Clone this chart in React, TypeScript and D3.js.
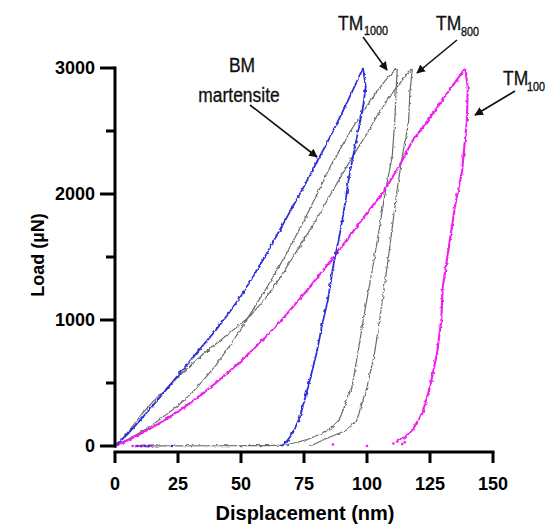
import React from "react";
import * as d3 from "d3";

// Displacement (nm), Load (µN)
const blueLoad: [number, number][] = [
  [0, 0], [5, 95], [10, 205], [15, 320], [20, 440], [25, 560], [30, 680], [35, 800], [40, 920],
  [45, 1050], [50, 1190], [55, 1350], [60, 1520], [65, 1700], [70, 1880], [75, 2060], [80, 2250],
  [85, 2440], [90, 2640], [95, 2850], [98.4, 3000],
];
const blueUnload: [number, number][] = [
  [98.4, 3000], [99.5, 2850], [98.5, 2700], [97, 2550], [95, 2350], [93, 2150], [91.5, 1950],
  [89.3, 1690], [86.5, 1420], [84.5, 1160], [82.5, 990], [80, 738], [76.6, 468], [73.4, 230],
  [70.5, 100], [67.5, 20], [66, 0],
];
const blueTail: [number, number][] = [[9, 0], [10.5, 0], [12, 0], [13.5, 0], [22.6, 0]];

const tm1000Load: [number, number][] = [
  [0, 0], [4, 40], [8, 85], [12, 130], [16, 185], [20, 245], [25, 320], [30, 410], [35, 520],
  [40, 640], [45, 780], [50, 930], [55, 1090], [60, 1250], [65, 1420], [70, 1600], [75, 1790],
  [80, 1990], [85, 2200], [90, 2380], [95, 2550], [100, 2700], [105, 2840], [108, 2920], [112, 3000],
];
const tm1000Unload: [number, number][] = [
  [112, 3000], [111.5, 2800], [111, 2571], [110, 2300], [107.5, 2040], [103, 1500], [98.5, 1000],
  [96.4, 738], [94, 468], [89, 206], [85, 127], [76, 48], [68, 8], [60, 3], [40, 2], [20, 1], [8, 0],
];
const tm800Load: [number, number][] = [
  [0, 0], [3, 60], [6, 130], [11, 262], [15, 350], [20, 450], [25, 548], [30, 640], [35, 730],
  [40, 810], [45, 890], [50, 970], [54, 1040], [60, 1180], [65, 1320], [70, 1480], [75, 1640],
  [80, 1800], [86.5, 2030], [90, 2150], [95, 2320], [100, 2480], [104, 2620], [110, 2800],
  [115, 2930], [118, 3000],
];
const tm800Unload: [number, number][] = [
  [118, 3000], [117, 2800], [116.5, 2571], [114, 2300], [112, 2040], [108.5, 1500], [105, 1000],
  [103, 738], [100, 468], [96, 206], [92, 127], [82.5, 48], [78.5, 8], [77, 6],
];

const tm100Load: [number, number][] = [
  [0, 0], [5, 45], [10, 95], [15, 150], [20, 210], [25, 275], [30, 345], [35, 420], [40, 500],
  [45, 585], [50, 675], [55, 770], [60, 870], [65, 975], [70, 1090], [76, 1230], [82, 1380],
  [88, 1530], [94, 1690], [100, 1850], [107, 2030], [113, 2230], [118, 2420], [124, 2580],
  [129, 2720], [134, 2860], [139, 3000],
];
const tm100Unload: [number, number][] = [
  [139, 3000], [140, 2840], [139.6, 2571], [138.5, 2350], [137.7, 2175], [135, 1913], [132, 1516],
  [130, 1254], [129.5, 1000], [127.8, 738], [125, 468], [122, 262], [118, 127], [115, 70], [112, 48],
];
const tm100Tail: [number, number][] = [
  [7, 0], [8.5, 0], [10, 0], [11.5, 0], [13, 0], [14.5, 0], [86.5, 12], [100, 0],
  [110.5, 20], [112, 35], [114, 15], [115, 30],
];

const xTicks = [0, 25, 50, 75, 100, 125, 150];
const yTicks = [0, 1000, 2000, 3000];
const yMinorTicks = [500, 1500, 2500];

const BLUE = "#2f2fd8";
const PINK = "#f01cf0";
const GRAY = "#6a6a6a";

export default function App() {
  const x = d3.scaleLinear().domain([0, 150]).range([115, 493]);
  const y = d3.scaleLinear().domain([0, 3000]).range([446, 68]);
  const line = d3
    .line<[number, number]>()
    .x((d) => x(d[0]))
    .y((d) => y(d[1]));

  const font = "'Liberation Sans', Arial, sans-serif";
  const ann = (t: string, px: number, py: number, size: number, anchor = "start", sx = 0.83) => (
    <text
      transform={`translate(${px},${py}) scale(${sx},1)`}
      fontSize={size}
      fontFamily={font}
      textAnchor={anchor}
      fill="#111"
      stroke="#111"
      strokeWidth={0.35}
    >
      {t}
    </text>
  );

  return (
    <svg
      width={550}
      height={526}
      style={{ position: "absolute", left: 0, top: 0, background: "#fff" }}
    >
      <defs>
        <filter id="jit" x="-20%" y="-5%" width="140%" height="110%">
          <feTurbulence type="fractalNoise" baseFrequency="0.3" numOctaves="1" seed="4" />
          <feDisplacementMap in="SourceGraphic" scale="3.5" xChannelSelector="R" yChannelSelector="G" />
        </filter>
        <marker id="ah" viewBox="0 0 10 10" refX="9" refY="5" markerWidth="5.5" markerHeight="5.5" orient="auto">
          <path d="M0,0 L10,5 L0,10 z" fill="#111" />
        </marker>
      </defs>

      {/* curves */}
      <g fill="none" filter="url(#jit)">
        <path d={line(tm1000Load) || ""} stroke={GRAY} strokeWidth={1.2} />
        <path d={line(tm1000Unload) || ""} stroke={GRAY} strokeWidth={1.2} />
        <path d={line(tm800Load) || ""} stroke={GRAY} strokeWidth={1.2} />
        <path d={line(tm800Unload) || ""} stroke={GRAY} strokeWidth={1.2} />
        <path d={line(tm100Load) || ""} stroke={PINK} strokeWidth={2.1} />
        <path d={line(tm100Unload) || ""} stroke={PINK} strokeWidth={2.1} />
        <path d={line(blueLoad) || ""} stroke={BLUE} strokeWidth={1.8} />
        <path d={line(blueUnload) || ""} stroke={BLUE} strokeWidth={1.8} />
      </g>
      {tm100Tail.map((d, i) => (
        <circle key={"p" + i} cx={x(d[0])} cy={y(d[1])} r={1.3} fill={PINK} />
      ))}
      {blueTail.map((d, i) => (
        <circle key={"b" + i} cx={x(d[0])} cy={y(d[1])} r={1.2} fill={BLUE} />
      ))}

      {/* y axis */}
      <line x1={115} x2={115} y1={y(3000) - 1.5} y2={y(0) + 1.5} stroke="#000" strokeWidth={3} />
      {yTicks.map((t) => (
        <g key={"yt" + t}>
          <line x1={100} x2={115} y1={y(t)} y2={y(t)} stroke="#000" strokeWidth={3} />
          <text x={95} y={y(t)} dy="0.36em" textAnchor="end" fontSize={18} fontWeight="bold" fontFamily={font}>
            {t}
          </text>
        </g>
      ))}
      {yMinorTicks.map((t) => (
        <line key={"ym" + t} x1={106} x2={115} y1={y(t)} y2={y(t)} stroke="#000" strokeWidth={3} />
      ))}
      <text
        transform={`translate(44,255) rotate(-90)`}
        textAnchor="middle"
        fontSize={18}
        fontWeight="bold"
        fontFamily={font}
      >
        Load (µN)
      </text>

      {/* x axis */}
      <line x1={x(0) - 1.5} x2={x(150) + 1.5} y1={452} y2={452} stroke="#000" strokeWidth={3} />
      {xTicks.map((t) => (
        <g key={"xt" + t}>
          <line x1={x(t)} x2={x(t)} y1={452} y2={463} stroke="#000" strokeWidth={3} />
          <text x={x(t)} y={490} textAnchor="middle" fontSize={18} fontWeight="bold" fontFamily={font}>
            {t}
          </text>
        </g>
      ))}
      <text x={305} y={520} textAnchor="middle" fontSize={20} fontWeight="bold" fontFamily={font}>
        Displacement (nm)
      </text>

      {/* annotations */}
      {ann("BM", 242, 72, 21, "middle")}
      {ann("martensite", 239, 102, 21, "middle")}
      <line x1={250} y1={105} x2={317} y2={157} stroke="#111" strokeWidth={1.6} markerEnd="url(#ah)" />

      {ann("TM", 338, 30, 21)}
      {ann("1000", 364, 35, 12, "start", 0.9)}
      <line x1={363} y1={37} x2={387} y2={70} stroke="#111" strokeWidth={1.6} markerEnd="url(#ah)" />

      {ann("TM", 436, 30, 21)}
      {ann("800", 461, 36, 12, "start", 0.9)}
      <line x1={457} y1={40} x2={417} y2={73} stroke="#111" strokeWidth={1.6} markerEnd="url(#ah)" />

      {ann("TM", 503, 85, 21)}
      {ann("100", 527, 91, 12, "start", 0.9)}
      <line x1={515} y1={91} x2={475} y2={115} stroke="#111" strokeWidth={1.6} markerEnd="url(#ah)" />
    </svg>
  );
}
